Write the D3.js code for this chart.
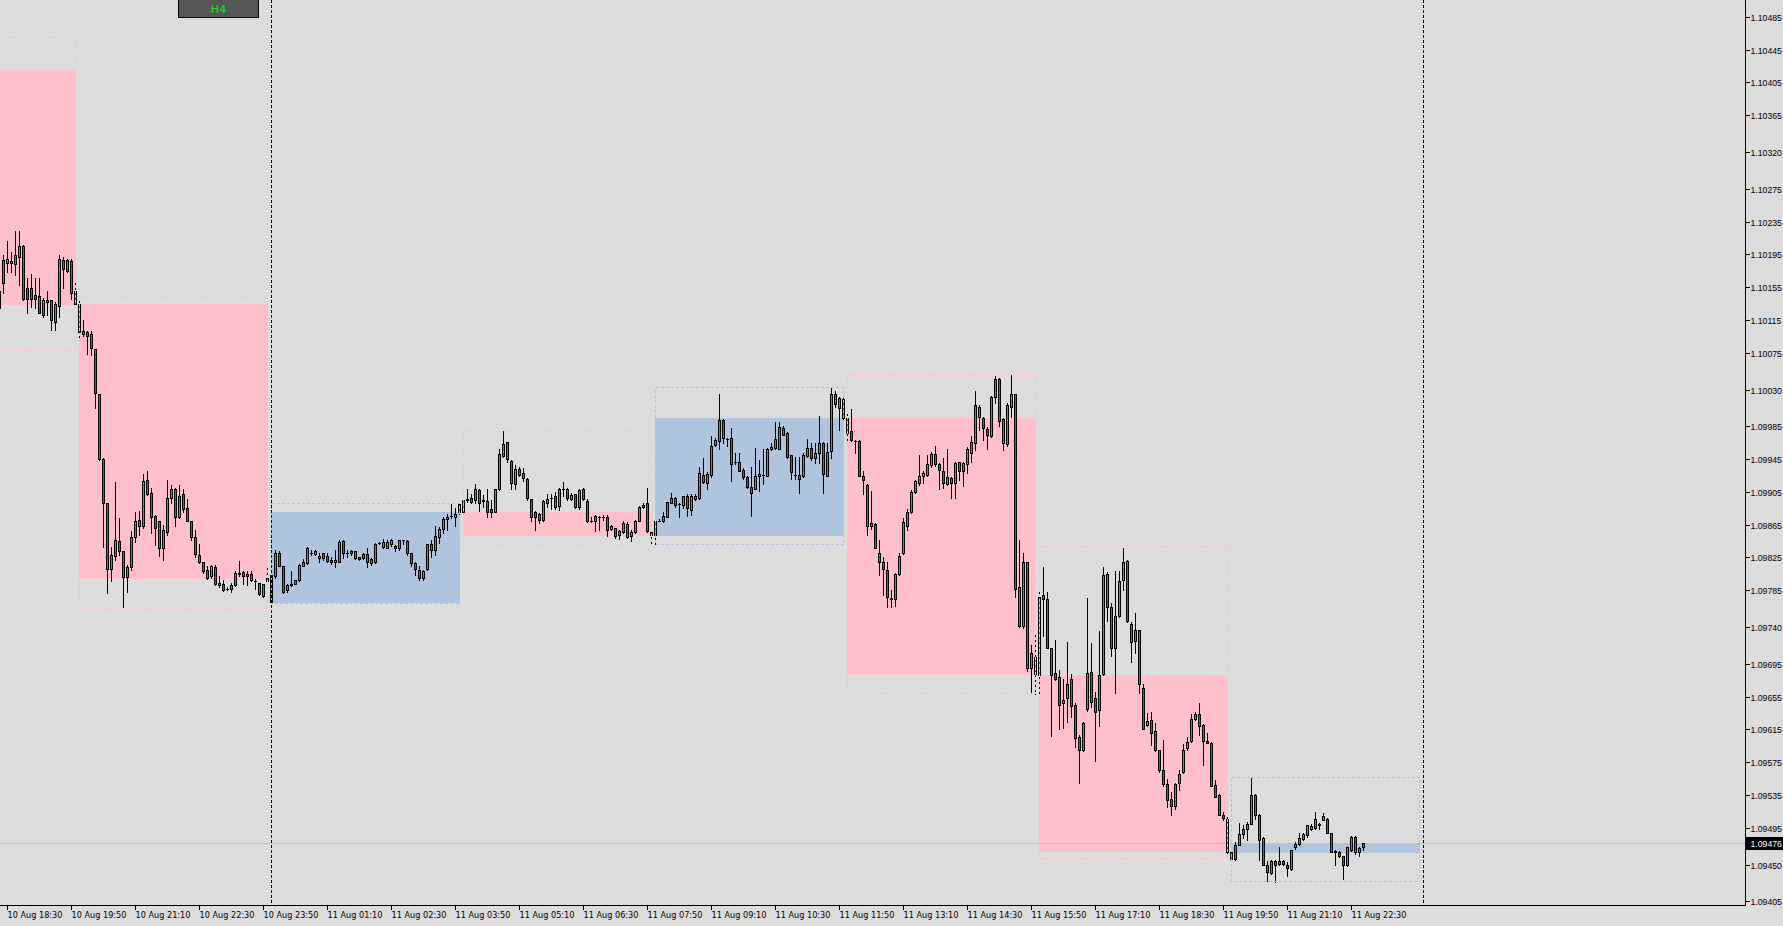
<!DOCTYPE html>
<html><head><meta charset="utf-8">
<script src="https://cdn.jsdelivr.net/npm/d3@7"></script>
<style>html,body{margin:0;padding:0;background:#dcdcdc;overflow:hidden}svg{display:block}</style>
</head><body>
<svg id="c" width="1783" height="926"></svg>
<script>
// ---- M5 bars, first visible bar = 10 Aug 18:20, one bar every 5 minutes ----
const firstBarLabel = "10 Aug 18:20";
const barMinutes = 5;
const opens = [
1.10129,1.10160,1.10185,1.10185,1.10183,1.10192,1.10205,1.10154,1.10154,1.10141,
1.10144,1.10121,1.10137,1.10139,1.10113,1.10132,1.10188,1.10175,1.10187,1.10150,
1.10135,1.10102,1.10100,1.10098,1.10080,1.10024,1.09945,1.09891,1.09811,1.09827,
1.09845,1.09833,1.09801,1.09813,1.09850,1.09864,1.09863,1.09919,1.09904,1.09876,
1.09870,1.09836,1.09856,1.09898,1.09908,1.09875,1.09902,1.09885,1.09870,1.09850,
1.09828,1.09819,1.09810,1.09802,1.09813,1.09794,1.09792,1.09786,1.09786,1.09791,
1.09805,1.09807,1.09802,1.09805,1.09796,1.09794,1.09778,1.09800,1.09771,1.09802,
1.09831,1.09815,1.09785,1.09791,1.09793,1.09797,1.09815,1.09818,1.09831,1.09829,
1.09824,1.09830,1.09827,1.09822,1.09819,1.09820,1.09845,1.09831,1.09830,1.09833,
1.09825,1.09824,1.09829,1.09823,1.09820,1.09843,1.09838,1.09837,1.09841,1.09839,
1.09836,1.09846,1.09845,1.09830,1.09818,1.09810,1.09800,1.09811,1.09842,1.09834,
1.09850,1.09860,1.09872,1.09876,1.09874,1.09890,1.09880,1.09895,1.09897,1.09895,
1.09907,1.09894,1.09894,1.09884,1.09881,1.09908,1.09949,1.09966,1.09943,1.09915,
1.09933,1.09928,1.09921,1.09896,1.09881,1.09878,1.09871,1.09891,1.09897,1.09900,
1.09888,1.09909,1.09908,1.09896,1.09902,1.09886,1.09908,1.09894,1.09869,1.09869,
1.09875,1.09874,1.09874,1.09860,1.09861,1.09852,1.09856,1.09866,1.09851,1.09856,
1.09870,1.09886,1.09891,1.09856,1.09852,1.09870,1.09869,1.09875,1.09891,1.09898,
1.09890,1.09889,1.09900,1.09883,1.09896,1.09898,1.09926,1.09916,1.09926,1.09962,
1.09967,1.09993,1.09970,1.09971,1.09942,1.09942,1.09932,1.09923,1.09911,1.09909,
1.09924,1.09926,1.09925,1.09957,1.09959,1.09958,1.09983,1.09977,1.09950,1.09926,
1.09926,1.09925,1.09949,1.09959,1.09946,1.09952,1.09965,1.09925,1.09955,1.10025,
1.10007,1.10019,1.09995,1.09980,1.09967,1.09967,1.09925,1.09914,1.09863,1.09866,
1.09831,1.09819,1.09810,1.09776,1.09774,1.09805,1.09830,1.09864,1.09880,1.09905,
1.09916,1.09925,1.09926,1.09938,1.09951,1.09939,1.09930,1.09915,1.09922,1.09916,
1.09941,1.09931,1.09939,1.09952,1.09965,1.10009,1.09995,1.09982,1.09973,1.10021,
1.10043,1.09994,1.09964,1.10009,1.10024,1.09789,1.09741,1.09819,1.09690,1.09704,
1.09681,1.09779,1.09774,1.09714,1.09684,1.09679,1.09647,1.09653,1.09677,1.09645,
1.09606,1.09590,1.09640,1.09685,1.09653,1.09639,1.09683,1.09805,1.09765,1.09715,
1.09753,1.09797,1.09821,1.09744,1.09723,1.09736,1.09666,1.09621,1.09626,1.09613,
1.09590,1.09566,1.09548,1.09530,1.09522,1.09550,1.09563,1.09592,1.09601,1.09628,
1.09634,1.09620,1.09601,1.09599,1.09547,1.09535,1.09511,1.09506,1.09465,1.09457,
1.09474,1.09487,1.09493,1.09500,1.09535,1.09510,1.09482,1.09450,1.09440,1.09454,
1.09451,1.09454,1.09450,1.09445,1.09471,1.09475,1.09481,1.09486,1.09493,1.09495,
1.09498,1.09505,1.09506,1.09489,1.09467,1.09465,1.09461,1.09449,1.09468,1.09484,
1.09465,1.09471];
const highs = [
1.10158,1.10194,1.10211,1.10198,1.10223,1.10223,1.10207,1.10166,1.10171,1.10166,
1.10166,1.10142,1.10150,1.10139,1.10137,1.10194,1.10192,1.10190,1.10189,1.10160,
1.10139,1.10115,1.10101,1.10101,1.10080,1.10024,1.09946,1.09891,1.09838,1.09917,
1.09873,1.09833,1.09816,1.09857,1.09881,1.09882,1.09927,1.09930,1.09910,1.09877,
1.09870,1.09865,1.09919,1.09914,1.09910,1.09914,1.09908,1.09896,1.09870,1.09859,
1.09841,1.09819,1.09814,1.09816,1.09816,1.09802,1.09798,1.09789,1.09794,1.09808,
1.09821,1.09808,1.09808,1.09808,1.09799,1.09794,1.09793,1.09813,1.09804,1.09834,
1.09833,1.09815,1.09792,1.09809,1.09798,1.09817,1.09823,1.09838,1.09834,1.09834,
1.09830,1.09831,1.09831,1.09825,1.09834,1.09846,1.09846,1.09834,1.09834,1.09833,
1.09826,1.09830,1.09836,1.09824,1.09843,1.09844,1.09847,1.09846,1.09848,1.09840,
1.09846,1.09846,1.09846,1.09831,1.09819,1.09814,1.09810,1.09842,1.09846,1.09863,
1.09862,1.09875,1.09878,1.09890,1.09885,1.09891,1.09897,1.09908,1.09903,1.09915,
1.09908,1.09901,1.09908,1.09895,1.09908,1.09957,1.09980,1.09966,1.09944,1.09938,
1.09935,1.09934,1.09922,1.09896,1.09882,1.09879,1.09895,1.09903,1.09903,1.09905,
1.09910,1.09917,1.09910,1.09904,1.09903,1.09908,1.09910,1.09896,1.09875,1.09877,
1.09876,1.09877,1.09877,1.09865,1.09861,1.09859,1.09869,1.09868,1.09858,1.09871,
1.09888,1.09891,1.09910,1.09857,1.09871,1.09872,1.09881,1.09893,1.09904,1.09899,
1.09891,1.09900,1.09902,1.09902,1.09902,1.09936,1.09946,1.09929,1.09973,1.09971,
1.10024,1.09994,1.09971,1.09983,1.09952,1.09952,1.09934,1.09924,1.09935,1.09959,
1.09944,1.09957,1.09959,1.09965,1.09991,1.09991,1.09986,1.09978,1.09950,1.09948,
1.09948,1.09953,1.09970,1.09965,1.09965,1.09998,1.09966,1.09965,1.10032,1.10028,
1.10021,1.10021,1.10002,1.10006,1.09969,1.09969,1.09930,1.09915,1.09906,1.09867,
1.09846,1.09826,1.09819,1.09785,1.09806,1.09830,1.09873,1.09884,1.09907,1.09920,
1.09950,1.09930,1.09950,1.09954,1.09961,1.09940,1.09947,1.09958,1.09923,1.09941,
1.09942,1.09942,1.09960,1.09973,1.10028,1.10011,1.09996,1.09984,1.10022,1.10047,
1.10044,1.09995,1.10013,1.10048,1.10025,1.09846,1.09830,1.09820,1.09718,1.09730,
1.09787,1.09813,1.09783,1.09714,1.09724,1.09688,1.09676,1.09722,1.09683,1.09647,
1.09608,1.09624,1.09776,1.09720,1.09661,1.09735,1.09813,1.09807,1.09769,1.09809,
1.09809,1.09837,1.09822,1.09746,1.09757,1.09737,1.09671,1.09635,1.09636,1.09623,
1.09590,1.09602,1.09554,1.09539,1.09550,1.09565,1.09597,1.09606,1.09634,1.09636,
1.09647,1.09622,1.09611,1.09600,1.09553,1.09536,1.09514,1.09508,1.09465,1.09478,
1.09501,1.09498,1.09502,1.09556,1.09536,1.09512,1.09484,1.09454,1.09456,1.09455,
1.09472,1.09456,1.09453,1.09468,1.09478,1.09489,1.09488,1.09498,1.09500,1.09514,
1.09501,1.09513,1.09507,1.09489,1.09468,1.09467,1.09461,1.09472,1.09485,1.09485,
1.09472,1.09476];
const lows = [
1.10123,1.10148,1.10174,1.10174,1.10170,1.10158,1.10139,1.10124,1.10131,1.10130,
1.10123,1.10119,1.10121,1.10103,1.10103,1.10119,1.10154,1.10173,1.10141,1.10134,
1.10093,1.10095,1.10074,1.10072,1.10008,1.09944,1.09838,1.09781,1.09796,1.09822,
1.09828,1.09764,1.09783,1.09810,1.09844,1.09853,1.09861,1.09901,1.09855,1.09840,
1.09827,1.09822,1.09852,1.09891,1.09863,1.09873,1.09881,1.09869,1.09846,1.09826,
1.09818,1.09806,1.09799,1.09800,1.09791,1.09789,1.09784,1.09785,1.09783,1.09790,
1.09802,1.09792,1.09791,1.09796,1.09787,1.09779,1.09777,1.09796,1.09770,1.09800,
1.09814,1.09781,1.09783,1.09790,1.09793,1.09796,1.09814,1.09817,1.09828,1.09828,
1.09820,1.09822,1.09819,1.09817,1.09813,1.09819,1.09824,1.09826,1.09828,1.09823,
1.09822,1.09823,1.09813,1.09816,1.09818,1.09842,1.09836,1.09836,1.09839,1.09833,
1.09834,1.09842,1.09828,1.09814,1.09804,1.09798,1.09797,1.09810,1.09826,1.09828,
1.09843,1.09855,1.09859,1.09873,1.09863,1.09878,1.09879,1.09893,1.09891,1.09891,
1.09882,1.09887,1.09875,1.09874,1.09880,1.09907,1.09948,1.09941,1.09908,1.09908,
1.09925,1.09918,1.09895,1.09869,1.09858,1.09867,1.09869,1.09887,1.09884,1.09884,
1.09883,1.09900,1.09895,1.09895,1.09885,1.09884,1.09895,1.09868,1.09868,1.09857,
1.09858,1.09871,1.09851,1.09859,1.09849,1.09848,1.09855,1.09849,1.09845,1.09855,
1.09869,1.09885,1.09856,1.09840,1.09841,1.09869,1.09868,1.09874,1.09891,1.09887,
1.09875,1.09885,1.09876,1.09877,1.09895,1.09896,1.09916,1.09909,1.09923,1.09961,
1.09957,1.09965,1.09961,1.09918,1.09939,1.09930,1.09921,1.09910,1.09876,1.09908,
1.09906,1.09915,1.09924,1.09956,1.09957,1.09957,1.09974,1.09946,1.09921,1.09921,
1.09904,1.09923,1.09948,1.09944,1.09940,1.09940,1.09904,1.09924,1.09947,1.10009,
1.09981,1.09994,1.09965,1.09967,1.09953,1.09925,1.09903,1.09853,1.09860,1.09836,
1.09804,1.09779,1.09764,1.09764,1.09766,1.09804,1.09829,1.09859,1.09879,1.09904,
1.09914,1.09916,1.09925,1.09936,1.09937,1.09908,1.09910,1.09914,1.09897,1.09897,
1.09920,1.09912,1.09928,1.09941,1.09956,1.09981,1.09969,1.09958,1.09972,1.10013,
1.09986,1.09956,1.09961,1.09997,1.09777,1.09740,1.09739,1.09686,1.09660,1.09658,
1.09657,1.09729,1.09714,1.09607,1.09675,1.09616,1.09617,1.09624,1.09630,1.09594,
1.09550,1.09589,1.09638,1.09643,1.09577,1.09619,1.09682,1.09748,1.09705,1.09659,
1.09752,1.09785,1.09746,1.09697,1.09708,1.09660,1.09615,1.09619,1.09596,1.09589,
1.09563,1.09546,1.09520,1.09511,1.09518,1.09541,1.09562,1.09590,1.09600,1.09626,
1.09608,1.09571,1.09598,1.09546,1.09533,1.09510,1.09504,1.09463,1.09456,1.09456,
1.09474,1.09482,1.09480,1.09499,1.09506,1.09456,1.09449,1.09430,1.09438,1.09429,
1.09449,1.09449,1.09436,1.09444,1.09469,1.09474,1.09480,1.09484,1.09492,1.09494,
1.09494,1.09504,1.09488,1.09465,1.09449,1.09459,1.09433,1.09448,1.09467,1.09463,
1.09460,1.09468];
const closes = [
1.10150,1.10188,1.10189,1.10187,1.10194,1.10205,1.10141,1.10141,1.10141,1.10146,
1.10124,1.10139,1.10139,1.10115,1.10135,1.10189,1.10177,1.10188,1.10148,1.10135,
1.10100,1.10098,1.10096,1.10081,1.10026,1.09945,1.09891,1.09811,1.09828,1.09846,
1.09833,1.09801,1.09813,1.09850,1.09870,1.09871,1.09918,1.09903,1.09874,1.09861,
1.09837,1.09858,1.09897,1.09908,1.09875,1.09900,1.09884,1.09870,1.09850,1.09829,
1.09819,1.09808,1.09800,1.09814,1.09793,1.09791,1.09785,1.09786,1.09791,1.09806,
1.09806,1.09802,1.09805,1.09798,1.09796,1.09780,1.09792,1.09796,1.09803,1.09831,
1.09815,1.09783,1.09791,1.09793,1.09797,1.09816,1.09819,1.09836,1.09831,1.09833,
1.09827,1.09824,1.09821,1.09819,1.09822,1.09844,1.09830,1.09831,1.09833,1.09824,
1.09823,1.09829,1.09819,1.09818,1.09842,1.09843,1.09844,1.09844,1.09846,1.09836,
1.09846,1.09846,1.09831,1.09818,1.09811,1.09800,1.09809,1.09842,1.09834,1.09851,
1.09860,1.09872,1.09875,1.09876,1.09878,1.09880,1.09895,1.09896,1.09893,1.09908,
1.09891,1.09895,1.09881,1.09881,1.09908,1.09951,1.09964,1.09945,1.09916,1.09933,
1.09926,1.09922,1.09897,1.09875,1.09875,1.09871,1.09894,1.09896,1.09897,1.09886,
1.09908,1.09909,1.09898,1.09901,1.09886,1.09907,1.09896,1.09869,1.09869,1.09876,
1.09875,1.09874,1.09858,1.09863,1.09851,1.09857,1.09867,1.09850,1.09856,1.09869,
1.09887,1.09889,1.09857,1.09852,1.09870,1.09870,1.09876,1.09893,1.09898,1.09889,
1.09890,1.09900,1.09885,1.09900,1.09900,1.09928,1.09917,1.09927,1.09961,1.09969,
1.09993,1.09971,1.09970,1.09939,1.09942,1.09931,1.09923,1.09911,1.09904,1.09924,
1.09927,1.09926,1.09957,1.09960,1.09970,1.09984,1.09975,1.09948,1.09929,1.09926,
1.09921,1.09950,1.09959,1.09946,1.09953,1.09965,1.09927,1.09954,1.10024,1.10012,
1.10020,1.09995,1.09977,1.09968,1.09967,1.09925,1.09919,1.09863,1.09867,1.09836,
1.09819,1.09811,1.09777,1.09774,1.09805,1.09827,1.09868,1.09880,1.09905,1.09918,
1.09925,1.09928,1.09939,1.09951,1.09939,1.09932,1.09916,1.09923,1.09916,1.09940,
1.09931,1.09940,1.09958,1.09966,1.10011,1.09996,1.09983,1.09975,1.10021,1.10043,
1.09992,1.09965,1.10011,1.10024,1.09787,1.09741,1.09819,1.09690,1.09708,1.09683,
1.09777,1.09774,1.09714,1.09682,1.09677,1.09645,1.09651,1.09671,1.09644,1.09605,
1.09590,1.09623,1.09684,1.09649,1.09636,1.09682,1.09803,1.09764,1.09714,1.09754,
1.09796,1.09820,1.09747,1.09722,1.09736,1.09670,1.09616,1.09625,1.09611,1.09590,
1.09566,1.09549,1.09529,1.09522,1.09549,1.09561,1.09590,1.09600,1.09628,1.09634,
1.09619,1.09601,1.09599,1.09546,1.09533,1.09510,1.09507,1.09465,1.09457,1.09474,
1.09487,1.09494,1.09500,1.09535,1.09510,1.09480,1.09450,1.09441,1.09454,1.09450,
1.09454,1.09451,1.09446,1.09468,1.09475,1.09482,1.09487,1.09498,1.09497,1.09506,
1.09500,1.09509,1.09489,1.09465,1.09465,1.09460,1.09449,1.09471,1.09484,1.09465,
1.09470,1.09476];

// ---- H4 candles shown as boxes ----
const h4Starts = ["10 Aug 16:00","10 Aug 20:00","11 Aug 00:00","11 Aug 04:00","11 Aug 08:00","11 Aug 12:00","11 Aug 16:00","11 Aug 20:00"];
const h4Open  = [1.10420,1.10135,1.09771,1.09881,1.09852,1.09995,1.09681,1.09465];
const h4High  = [1.10460,1.10143,1.09891,1.09979,1.10033,1.10049,1.09839,1.09557];
const h4Low   = [1.10078,1.09763,1.09770,1.09840,1.09841,1.09659,1.09458,1.09430];
const h4Close = [1.10135,1.09800,1.09881,1.09852,1.09995,1.09683,1.09466,1.09476];

// ---- axes ----
const priceTicks = [1.10485,1.10445,1.10405,1.10365,1.10320,1.10275,1.10235,1.10195,1.10155,1.10115,1.10075,1.10030,1.09985,1.09945,1.09905,1.09865,1.09825,1.09785,1.09740,1.09695,1.09655,1.09615,1.09575,1.09535,1.09495,1.09450,1.09405];
const timeTickLabels = ["10 Aug 18:30","10 Aug 19:50","10 Aug 21:10","10 Aug 22:30","10 Aug 23:50","11 Aug 01:10","11 Aug 02:30","11 Aug 03:50","11 Aug 05:10","11 Aug 06:30","11 Aug 07:50","11 Aug 09:10","11 Aug 10:30","11 Aug 11:50","11 Aug 13:10","11 Aug 14:30","11 Aug 15:50","11 Aug 17:10","11 Aug 18:30","11 Aug 19:50","11 Aug 21:10","11 Aug 22:30"];
const daySeparators = ["11 Aug 00:00","12 Aug 00:00"];
const timeframeLabel = "H4";

const parseT = d3.utcParse("%d %b %H:%M %Y");
const T = s => parseT(s + " 2023");

const W = 1783, H = 926, plotR = 1745, plotB = 905;
const svg = d3.select("#c").attr("shape-rendering","crispEdges");
svg.append("rect").attr("width",W).attr("height",H).attr("fill","#dcdcdc");

const x = d3.scaleUtc().domain([T("10 Aug 18:30"), T("12 Aug 00:00")]).range([7.33, 1423.33]);
const y = d3.scaleLinear().domain([1.09476, 1.10485]).range([843.3, 16.9]);
const col = t => Math.floor(x(t));
const row = p => Math.round(y(p));

const first = T(firstBarLabel);
const bars = opens.map((o,i)=>({t:d3.utcMinute.offset(first, i*barMinutes), o, h:highs[i], l:lows[i], c:closes[i]}));
const lastClose = closes[closes.length-1];

svg.append("clipPath").attr("id","clip").append("rect").attr("x",0).attr("y",0).attr("width",plotR).attr("height",plotB);
const plot = svg.append("g").attr("clip-path","url(#clip)");

const PINK = "#ffc0cb", BLUE = "#b0c4de";
const boxes = h4Starts.map((s,i)=>{
  const t0 = T(s), tLast = d3.utcMinute.offset(t0, 240 - barMinutes);
  return {x1: col(t0), x2: col(tLast), o:h4Open[i], h:h4High[i], l:h4Low[i], c:h4Close[i]};
});
// filled bodies
plot.append("g").selectAll("rect").data(boxes).join("rect")
  .attr("x", d=>d.x1).attr("width", d=>d.x2-d.x1+1)
  .attr("y", d=>row(Math.max(d.o,d.c))).attr("height", d=>Math.max(1,row(Math.min(d.o,d.c))-row(Math.max(d.o,d.c))+1))
  .attr("fill", d=> d.c < d.o ? PINK : BLUE);

// current price line
plot.append("line").attr("x1",0).attr("x2",plotR).attr("y1",row(lastClose)+0.5).attr("y2",row(lastClose)+0.5)
  .attr("stroke","#c0c0c0").attr("stroke-width",1);

// candles
const cg = plot.append("g");
cg.selectAll("rect.w").data(bars).join("rect").attr("class","w")
  .attr("x", d=>col(d.t)).attr("width",1)
  .attr("y", d=>row(Math.max(d.h,d.o,d.c))).attr("height", d=>row(Math.min(d.l,d.o,d.c))-row(Math.max(d.h,d.o,d.c))+1)
  .attr("fill","#000");
cg.selectAll("rect.b").data(bars).join("rect").attr("class","b")
  .attr("x", d=>col(d.t)-1).attr("width",3)
  .attr("y", d=>row(Math.max(d.o,d.c))).attr("height", d=>row(Math.min(d.o,d.c))-row(Math.max(d.o,d.c))+1)
  .attr("fill","#000");
cg.selectAll("rect.i").data(bars.filter(d=>row(Math.min(d.o,d.c))-row(Math.max(d.o,d.c))>=2)).join("rect").attr("class","i")
  .attr("x", d=>col(d.t)).attr("width",1)
  .attr("y", d=>row(Math.max(d.o,d.c))+1).attr("height", d=>row(Math.min(d.o,d.c))-row(Math.max(d.o,d.c))-1)
  .attr("fill", d=> d.c >= d.o ? "#708090" : "#a0522d");

// dashed H4 range outlines
plot.append("g").selectAll("rect").data(boxes).join("rect")
  .attr("x", d=>d.x1+0.5).attr("width", d=>d.x2-d.x1)
  .attr("y", d=>row(d.h)+0.5).attr("height", d=>row(d.l)-row(d.h))
  .attr("fill","none").attr("stroke", d=> d.c < d.o ? PINK : BLUE).attr("stroke-width",1)
  .attr("stroke-dasharray","3,2");

// day separators
plot.append("g").selectAll("line").data(daySeparators).join("line")
  .attr("x1", d=>col(T(d))+0.5).attr("x2", d=>col(T(d))+0.5).attr("y1",0).attr("y2",plotB)
  .attr("stroke","#000").attr("stroke-dasharray","3,2");

// axes lines
svg.append("line").attr("x1",plotR+0.5).attr("x2",plotR+0.5).attr("y1",0).attr("y2",plotB+1).attr("stroke","#000");
svg.append("line").attr("x1",0).attr("x2",plotR+1).attr("y1",plotB+0.5).attr("y2",plotB+0.5).attr("stroke","#000");

const font = "DejaVu Sans, Verdana, sans-serif";
const pfont = "Liberation Sans, Arial, sans-serif";
const FS = "9.4px", PFS = "8.7px";
// price ticks
const pt = svg.append("g").selectAll("g").data(priceTicks).join("g");
pt.append("line").attr("x1",plotR+1).attr("x2",plotR+5).attr("y1",d=>row(d)+0.5).attr("y2",d=>row(d)+0.5).attr("stroke","#000");
pt.append("text").attr("x",plotR+5.5).attr("y",d=>row(d)+3.5).text(d=>d.toFixed(5))
  .attr("font-family",pfont).attr("font-size",PFS).attr("fill","#000");

// time ticks
const tt = svg.append("g").selectAll("g").data(timeTickLabels).join("g");
tt.append("line").attr("x1",d=>col(T(d))+0.5).attr("x2",d=>col(T(d))+0.5).attr("y1",plotB+1).attr("y2",plotB+5).attr("stroke","#000");
tt.append("text").attr("x",d=>col(T(d))+0.5).attr("y",plotB+13).text(d=>d)
  .attr("textLength",55).attr("lengthAdjust","spacingAndGlyphs")
  .attr("font-family",font).attr("font-size",FS).attr("fill","#000");

// current price tag
const cr = row(lastClose);
svg.append("rect").attr("x",plotR+1).attr("y",cr-6).attr("width",W-plotR-1).attr("height",13).attr("fill","#000");
svg.append("text").attr("x",plotR+5.5).attr("y",cr+3.5).text(lastClose.toFixed(5))
  .attr("font-family",pfont).attr("font-size",PFS).attr("fill","#fff");

// timeframe button
svg.append("rect").attr("x",178.5).attr("y",-1.5).attr("width",80).attr("height",19).attr("fill","#555555").attr("stroke","#000");
svg.append("text").attr("x",218.5).attr("y",13).attr("text-anchor","middle").text(timeframeLabel)
  .attr("font-family",font).attr("font-size","11px").attr("fill","#1ee21e");
</script>
</body></html>
